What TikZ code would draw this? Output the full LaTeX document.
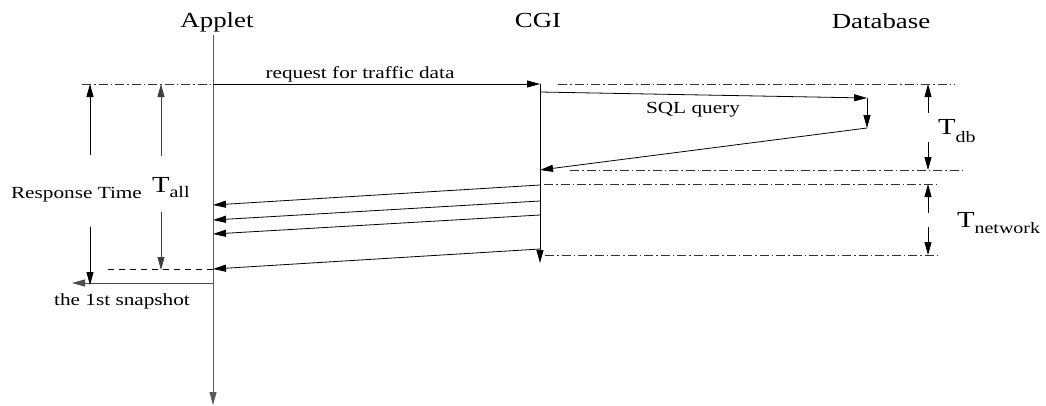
\documentclass[tikz,border=0pt]{standalone}
\usepackage{fontspec}
\setmainfont{Liberation Serif}
\usepackage{graphicx}
\usetikzlibrary{arrows.meta}
\newcommand{\sx}[1]{\scalebox{1.25}[1]{#1}}
\newcommand{\bigtxt}{\fontsize{21.5}{21.5}\selectfont}
\newcommand{\smalltxt}{\fontsize{17}{17}\selectfont}
\newcommand{\Tlab}[2]{\sx{\fontsize{23}{23}\selectfont T\raisebox{-#2}{\fontsize{16}{16}\selectfont #1}}}
\begin{document}
\begin{tikzpicture}[x=1pt,y=-1pt,
  ln/.style={line width=0.8pt,black},
  tip/.style={-{Triangle[length=13pt,width=7pt]}},
  arr/.style={ln,tip},
  dashdot/.style={line width=0.7pt,black!80,dash pattern=on 9pt off 3pt on 1.5pt off 3pt},
  dashline/.style={line width=0.7pt,black,dash pattern=on 6pt off 5pt},
  lbl/.style={inner sep=0pt,outer sep=0pt}]
\useasboundingbox (0,0) rectangle (1046,405);
% lifeline coordinates
\coordinate (A0) at (213,35);
\coordinate (A1) at (213,405);
\coordinate (C0) at (540,84);
\coordinate (C1) at (540,263);
% labels
\node[lbl,anchor=base] (applet) at (217,27) {\sx{\bigtxt Applet}};
\node[lbl,anchor=base] (cgi) at (538,27) {\sx{\bigtxt CGI}};
\node[lbl,anchor=base] (db) at (881,28) {\sx{\bigtxt Database}};
\node[lbl,anchor=base] (reqlbl) at (360,78) {\sx{\smalltxt request for traffic data}};
\node[lbl,anchor=base] (sqllbl) at (693,113) {\sx{\smalltxt SQL query}};
\node[lbl,anchor=base west] (rtlbl) at (11,198) {\sx{\smalltxt Response Time}};
\node[lbl,anchor=base] (snaplbl) at (122,305) {\sx{\smalltxt the 1st snapshot}};
\node[lbl,anchor=base west] (tall) at (152,192) {\Tlab{all}{5pt}};
\node[lbl,anchor=base west] (tdb) at (938,134) {\Tlab{db}{8pt}};
\node[lbl,anchor=base west] (tnet) at (957,227) {\Tlab{network}{6pt}};
% lifelines
\draw[ln,black!65,tip] (A0) -- (A1);
\draw[arr] (C0) -- (C1);
% request
\coordinate (rq0) at (213,84);
\draw[arr] (rq0) -- (C0);
% SQL
\coordinate (sq0) at (540,92);
\coordinate (sq1) at (867,98);
\coordinate (sq2) at (867,128);
\coordinate (sr) at (540,170);
\draw[arr] (sq0) -- (sq1);
\draw[arr] (sq1) -- (sq2);
\draw[arr] (sq2) -- (sr);
% returns to applet
\coordinate (r1s) at (540,185); \coordinate (r1e) at (213,205);
\coordinate (r2s) at (540,201); \coordinate (r2e) at (213,220);
\coordinate (r3s) at (540,215); \coordinate (r3e) at (213,234);
\coordinate (r4s) at (540,249); \coordinate (r4e) at (213,269);
\draw[arr] (r1s) -- (r1e);
\draw[arr] (r2s) -- (r2e);
\draw[arr] (r3s) -- (r3e);
\draw[arr] (r4s) -- (r4e);
% snapshot
\coordinate (sn0) at (213,283);
\coordinate (sn1) at (72,283);
\draw[ln,black!70,tip] (sn0) -- (sn1);
% dash-dot reference lines
\coordinate (d1a) at (82,84);   \coordinate (d1b) at (213,84);
\coordinate (d2a) at (558,84);  \coordinate (d2b) at (955,84);
\coordinate (d3a) at (570,170); \coordinate (d3b) at (963,170);
\coordinate (d4a) at (544,184); \coordinate (d4b) at (937,184);
\coordinate (d5a) at (545,255); \coordinate (d5b) at (937,255);
\draw[dashdot] (d1a) -- (d1b);
\draw[dashdot] (d2a) -- (d2b);
\draw[dashdot] (d3a) -- (d3b);
\draw[dashdot] (d4a) -- (d4b);
\draw[dashdot] (d5a) -- (d5b);
\coordinate (dsa) at (108,269); \coordinate (dsb) at (213,269);
\draw[dashline] (dsa) -- (dsb);
% dimension arrows
\coordinate (rt1) at (90,155); \coordinate (rt1e) at (90,84);
\coordinate (rt2) at (90,227); \coordinate (rt2e) at (90,285);
\draw[arr] (rt1) -- (rt1e);
\draw[arr] (rt2) -- (rt2e);
\coordinate (ta1) at (161,156); \coordinate (ta1e) at (161,84);
\coordinate (ta2) at (161,212); \coordinate (ta2e) at (161,270);
\draw[arr,black!75] (ta1) -- (ta1e);
\draw[arr,black!75] (ta2) -- (ta2e);
\coordinate (tb1) at (928,113); \coordinate (tb1e) at (928,84);
\coordinate (tb2) at (928,142); \coordinate (tb2e) at (928,170);
\draw[arr] (tb1) -- (tb1e);
\draw[arr] (tb2) -- (tb2e);
\coordinate (tn1) at (928,213); \coordinate (tn1e) at (928,184);
\coordinate (tn2) at (928,227); \coordinate (tn2e) at (928,255);
\draw[arr] (tn1) -- (tn1e);
\draw[arr] (tn2) -- (tn2e);
\end{tikzpicture}
\end{document}
